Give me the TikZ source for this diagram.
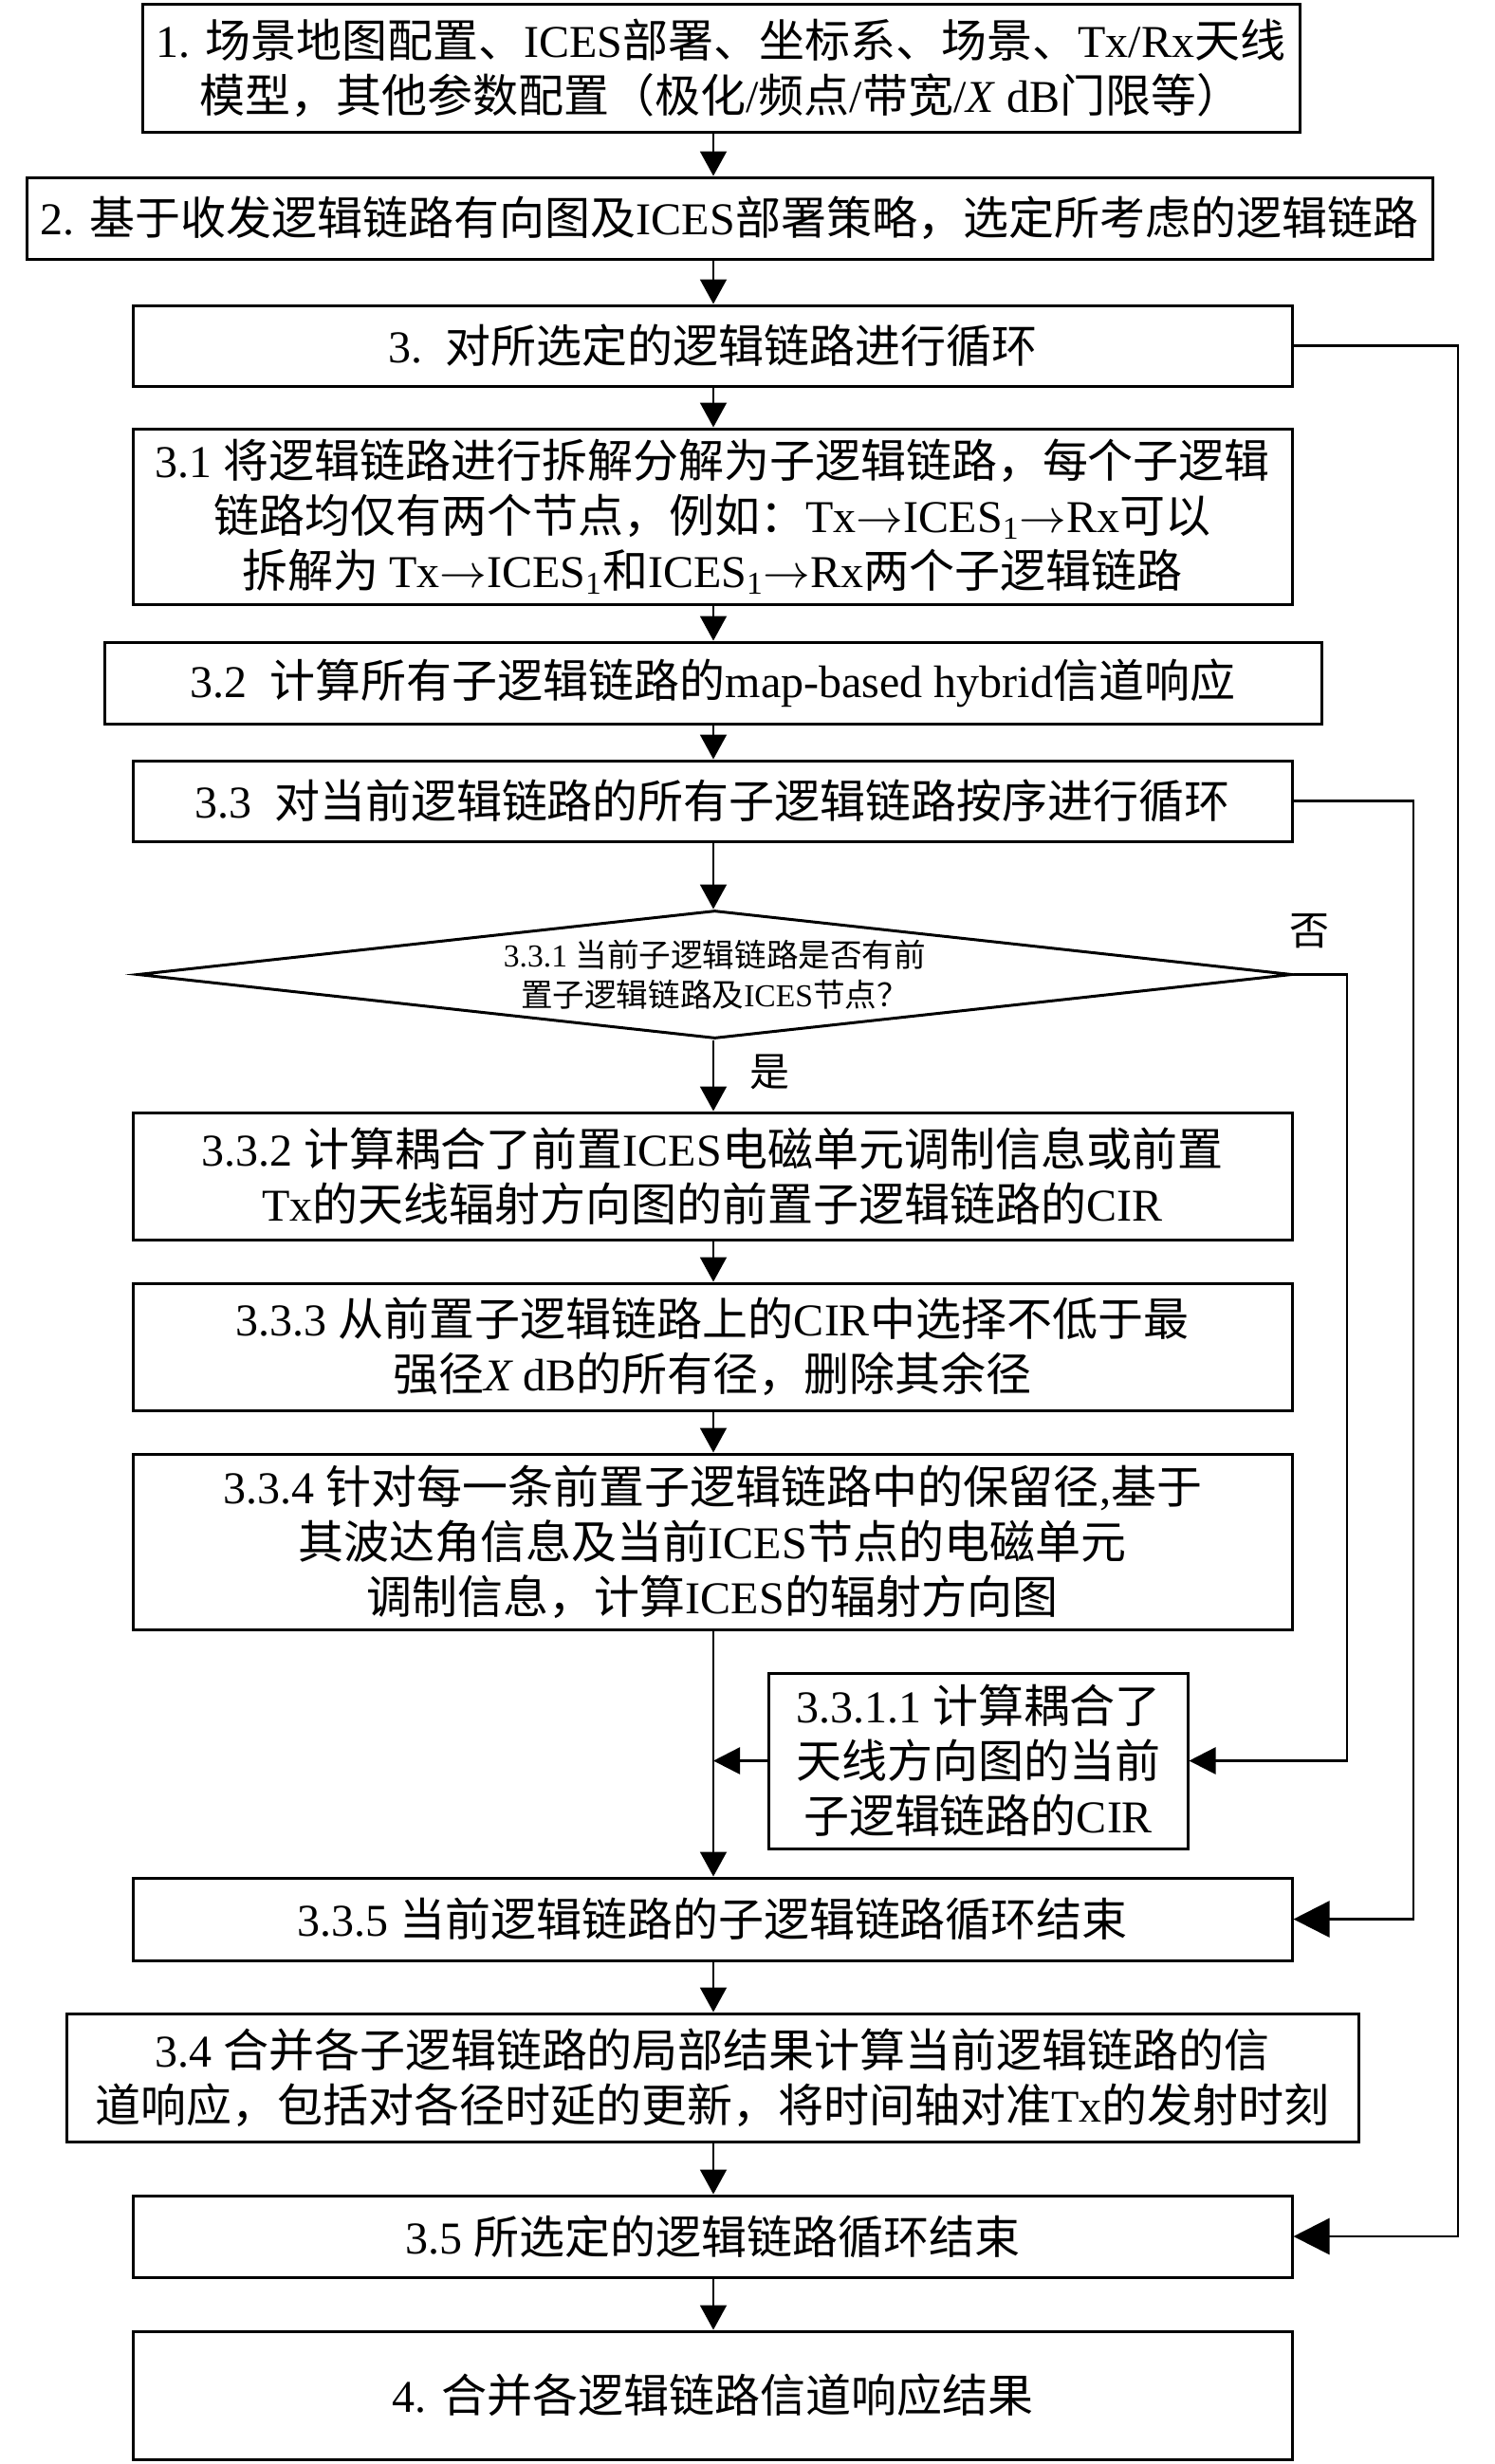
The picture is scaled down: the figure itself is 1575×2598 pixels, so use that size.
\documentclass[tikz,border=0pt]{standalone}
\usepackage{fontspec}
\setmainfont{Liberation Serif}
\newfontfamily\cjk{Noto Sans CJK SC}
\newfontfamily\latinfont{Liberation Serif}
\usetikzlibrary{arrows.meta,shapes.geometric}
\newXeTeXintercharclass\CJKcls
\makeatletter
\count@="2E80
\loop\XeTeXcharclass\count@=\CJKcls\advance\count@ by 1\relax\ifnum\count@<"A000\repeat
\count@="FF00
\loop\XeTeXcharclass\count@=\CJKcls\advance\count@ by 1\relax\ifnum\count@<"FFF0\repeat
\makeatother
\XeTeXinterchartoks 0 \CJKcls={\cjk}
\XeTeXinterchartoks \CJKcls 0={\latinfont}
\XeTeXinterchartoks 4095 \CJKcls={\cjk}
\XeTeXinterchartoks 4095 0={\latinfont}
\XeTeXinterchartokenstate=1
\newcommand\rarr{\ensuremath{\rightarrow}}
\begin{document}
\begin{tikzpicture}[x=0.5pt,y=-0.5pt,
  box/.style={draw,line width=1.5pt,inner sep=0pt,align=center,font=\fontsize{24pt}{29pt}\selectfont},
  conn/.style={line width=1pt,-{Triangle[length=13pt,width=14pt]}},
  back/.style={line width=1.3pt,-{Triangle[length=19pt,width=19pt]}},
  side/.style={line width=1.3pt,-{Triangle[length=14pt,width=14pt]}},
  lab/.style={inner sep=0pt,font=\fontsize{21pt}{25pt}\selectfont},
  dtext/.style={inner sep=0pt,align=center,font=\fontsize{16.8pt}{21pt}\selectfont}]
\useasboundingbox (0,0) rectangle (1575,2598);
\coordinate (col) at (752,0);
\coordinate (x1) at (1537,0);
\coordinate (x2) at (1490,0);
\coordinate (x3) at (1420,0);

\node[box,minimum width=610pt,minimum height=67.5pt] (b1) at (760,71.5)
  {1. 场景地图配置、ICES部署、坐标系、场景、Tx/Rx天线\\模型，其他参数配置（极化/频点/带宽/\textit{X} dB门限等）};
\node[box,minimum width=741pt,minimum height=43pt] (b2) at (769,230)
  {2. 基于收发逻辑链路有向图及ICES部署策略，选定所考虑的逻辑链路};
\node[box,minimum width=611pt,minimum height=42.5pt] (b3) at (751,364.5)
  {3.\ \ 对所选定的逻辑链路进行循环};
\node[box,minimum width=611pt,minimum height=92.5pt] (b31) at (751,544.5)
  {3.1 将逻辑链路进行拆解分解为子逻辑链路，每个子逻辑\\链路均仅有两个节点，例如：Tx\rarr ICES\textsubscript{1}\rarr Rx可以\\拆解为 Tx\rarr ICES\textsubscript{1}和ICES\textsubscript{1}\rarr Rx两个子逻辑链路};
\node[box,minimum width=641.5pt,minimum height=43pt] (b32) at (751.5,720)
  {3.2\ \ 计算所有子逻辑链路的map-based hybrid信道响应};
\node[box,minimum width=611pt,minimum height=42.5pt] (b33) at (751,844.5)
  {3.3\ \ 对当前逻辑链路的所有子逻辑链路按序进行循环};
\node[draw,diamond,line width=1.5pt,inner sep=0pt,minimum width=608.5pt,minimum height=67.5pt] (dia) at (753.5,1027.5) {};
\node[dtext] (dt) at (dia.center) {3.3.1 当前子逻辑链路是否有前\\置子逻辑链路及ICES节点？};
\node[box,minimum width=611pt,minimum height=67pt] (b332) at (751,1240)
  {3.3.2 计算耦合了前置ICES电磁单元调制信息或前置\\Tx的天线辐射方向图的前置子逻辑链路的CIR};
\node[box,minimum width=611pt,minimum height=67pt] (b333) at (751,1420)
  {3.3.3 从前置子逻辑链路上的CIR中选择不低于最\\强径\textit{X} dB的所有径，删除其余径};
\node[box,minimum width=611pt,minimum height=92.5pt] (b334) at (751,1625.5)
  {3.3.4 针对每一条前置子逻辑链路中的保留径,基于\\其波达角信息及当前ICES节点的电磁单元\\调制信息，计算ICES的辐射方向图};
\node[box,minimum width=221pt,minimum height=92.5pt] (b3311) at (1031,1856.5)
  {3.3.1.1 计算耦合了\\天线方向图的当前\\子逻辑链路的CIR};
\node[box,minimum width=611pt,minimum height=43.5pt] (b335) at (751,2023.5)
  {3.3.5 当前逻辑链路的子逻辑链路循环结束};
\node[box,minimum width=681pt,minimum height=67.5pt] (b34) at (751,2190.5)
  {3.4 合并各子逻辑链路的局部结果计算当前逻辑链路的信\\道响应，包括对各径时延的更新，将时间轴对准Tx的发射时刻};
\node[box,minimum width=611pt,minimum height=43pt] (b35) at (751,2358)
  {3.5 所选定的逻辑链路循环结束};
\node[box,minimum width=611pt,minimum height=67.5pt] (b4) at (751,2525.5)
  {4. 合并各逻辑链路信道响应结果};

\node[lab] (no) at (1380,982) {否};
\node[lab] (yes) at (811,1130) {是};

\draw[conn] (b1.south -| col) -- (b2.north -| col);
\draw[conn] (b2.south -| col) -- (b3.north -| col);
\draw[conn] (b3.south -| col) -- (b31.north -| col);
\draw[conn] (b31.south -| col) -- (b32.north -| col);
\draw[conn] (b32.south -| col) -- (b33.north -| col);
\draw[conn] (b33.south -| col) -- (dia.north -| col);
\draw[conn] (dia.south -| col) -- (b332.north -| col);
\draw[conn] (b332.south -| col) -- (b333.north -| col);
\draw[conn] (b333.south -| col) -- (b334.north -| col);
\draw[conn] (b334.south -| col) -- (b335.north -| col);
\draw[conn] (b335.south -| col) -- (b34.north -| col);
\draw[conn] (b34.south -| col) -- (b35.north -| col);
\draw[conn] (b35.south -| col) -- (b4.north -| col);

\draw[side] (b3311.west) -- (b3311.west -| col);
\draw[side] (dia.east) -- (dia.east -| x3) |- (b3311.east);
\draw[back] (b33.east) -- (b33.east -| x2) |- (b335.east);
\draw[back] (b3.east) -- (b3.east -| x1) |- (b35.east);
\end{tikzpicture}
\end{document}
